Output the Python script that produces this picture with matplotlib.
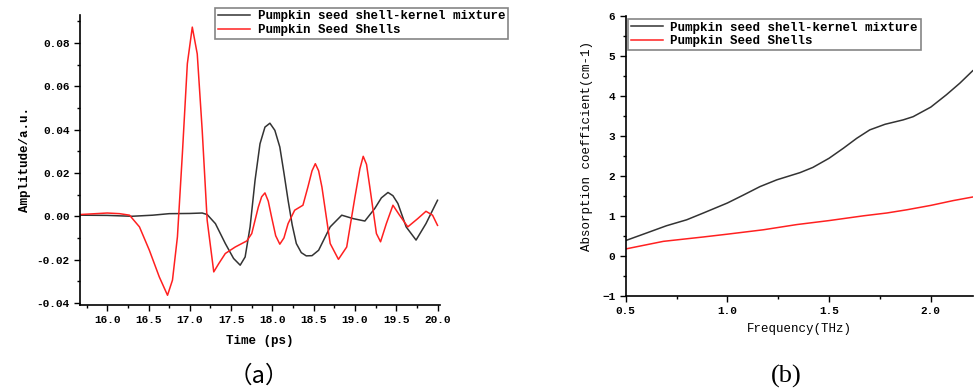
import numpy as np
import matplotlib
matplotlib.use("Agg")
import matplotlib.pyplot as plt
from matplotlib.ticker import MultipleLocator

plt.rcParams['font.family'] = ['Liberation Mono', 'DejaVu Sans']

# (a) time domain signal
time_mix = [15.67, 16.0, 16.15, 16.3, 16.55, 16.75, 17.0, 17.15, 17.21, 17.31, 17.43, 17.53,
            17.61, 17.67, 17.73, 17.79, 17.85, 17.91, 17.97, 18.03, 18.09, 18.14, 18.19,
            18.24, 18.29, 18.35, 18.41, 18.48, 18.56, 18.70, 18.84, 18.98, 19.12, 19.24,
            19.32, 19.40, 19.46, 19.52, 19.62, 19.74, 19.86, 20.0]
amp_mix = [0.0005, 0.0004, 0.0002, 0.0, 0.0005, 0.0012, 0.0013, 0.0015, 0.0008, -0.0034,
           -0.0126, -0.0195, -0.0226, -0.0188, -0.0049, 0.0166, 0.0335, 0.0412, 0.043,
           0.0397, 0.032, 0.020, 0.0074, -0.004, -0.0126, -0.0168, -0.0183, -0.0182,
           -0.0157, -0.0049, 0.0005, -0.0011, -0.0022, 0.0036, 0.0085, 0.011, 0.0095,
           0.0059, -0.0049, -0.011, -0.0034, 0.0074]

time_shell = [15.67, 16.0, 16.15, 16.27, 16.39, 16.51, 16.63, 16.73, 16.79, 16.85, 16.91,
              16.97, 17.03, 17.09, 17.15, 17.21, 17.29, 17.35, 17.43, 17.55, 17.69, 17.75,
              17.83, 17.87, 17.91, 17.95, 17.99, 18.04, 18.09, 18.14, 18.19, 18.27, 18.37,
              18.43, 18.48, 18.52, 18.56, 18.60, 18.70, 18.80, 18.90, 19.00, 19.06, 19.10,
              19.14, 19.18, 19.26, 19.31, 19.38, 19.46, 19.54, 19.64, 19.76, 19.86, 19.94,
              20.0]
amp_shell = [0.0008, 0.0015, 0.0012, 0.0005, -0.0049, -0.0157, -0.028, -0.0365, -0.0295,
             -0.0095, 0.029, 0.0705, 0.0874, 0.075, 0.0397, -0.0018, -0.0257, -0.0219,
             -0.0172, -0.0142, -0.0114, -0.008, 0.0043, 0.009, 0.0108, 0.007, -0.0003,
             -0.009, -0.0129, -0.010, -0.0034, 0.0028, 0.0051, 0.0135, 0.021, 0.0243,
             0.021, 0.0135, -0.0126, -0.0199, -0.0142, 0.0089, 0.022, 0.0277, 0.024,
             0.0135, -0.008, -0.0118, -0.0034, 0.0051, 0.0005, -0.0049, -0.0011, 0.0023,
             0.0005, -0.0042]

# (b) absorption coefficient
freq_mix = [0.5, 0.603, 0.70, 0.80, 0.882, 1.0, 1.079, 1.16, 1.243, 1.357, 1.42, 1.5, 1.57,
            1.636, 1.70, 1.775, 1.864, 1.913, 2.0, 2.077, 2.143, 2.206]
abs_mix = [0.38, 0.57, 0.75, 0.90, 1.07, 1.32, 1.52, 1.73, 1.90, 2.08, 2.21, 2.44, 2.69,
           2.94, 3.15, 3.29, 3.40, 3.48, 3.72, 4.03, 4.32, 4.63]
freq_shell = [0.5, 0.685, 0.882, 1.0, 1.177, 1.341, 1.5, 1.67, 1.784, 1.882, 2.0, 2.11, 2.206]
abs_shell = [0.17, 0.36, 0.47, 0.54, 0.65, 0.78, 0.88, 1.0, 1.07, 1.15, 1.26, 1.38, 1.47]

labels = ["Pumpkin seed shell-kernel mixture", "Pumpkin Seed Shells"]
c_mix = '#333333'
c_shell = '#ff2020'

fig = plt.figure(figsize=(9.74, 3.89), dpi=100)
ax1 = fig.add_axes([80/974, 1-305/389, 360/974, 290/389])
ax2 = fig.add_axes([625.7/974, 1-295.7/389, 347/974, 279.7/389])

def style(ax):
    for s in ['top', 'right']:
        ax.spines[s].set_visible(False)
    for s in ['left', 'bottom']:
        ax.spines[s].set_linewidth(1.2)
    ax.tick_params(which='major', direction='out', length=4, width=1, labelsize=8)
    ax.tick_params(which='minor', direction='out', length=2.5, width=1)
    for t in ax.get_xticklabels() + ax.get_yticklabels():
        t.set_fontweight('bold')

ax1.plot(time_mix, amp_mix, color=c_mix, lw=1.1, label=labels[0])
ax1.plot(time_shell, amp_shell, color=c_shell, lw=1.1, label=labels[1])
ax1.set_xlim(15.67, 20.03)
ax1.set_ylim(-0.041, 0.093)
ax1.xaxis.set_major_locator(MultipleLocator(0.5))
ax1.xaxis.set_minor_locator(MultipleLocator(0.25))
ax1.yaxis.set_major_locator(MultipleLocator(0.02))
ax1.yaxis.set_minor_locator(MultipleLocator(0.01))
ax1.yaxis.set_major_formatter(lambda v, p: f"{v:.2f}")
style(ax1)
ax1.set_xlabel("Time (ps)", fontsize=9, fontweight='bold', labelpad=7)
ax1.set_ylabel("Amplitude/a.u.", fontsize=9, fontweight='bold', labelpad=4)

ax2.plot(freq_mix, abs_mix, color=c_mix, lw=1.1, label=labels[0])
ax2.plot(freq_shell, abs_shell, color=c_shell, lw=1.1, label=labels[1])
ax2.set_xlim(0.5, 2.206)
ax2.set_ylim(-1, 6)
ax2.xaxis.set_major_locator(MultipleLocator(0.5))
ax2.xaxis.set_minor_locator(MultipleLocator(0.25))
ax2.yaxis.set_major_locator(MultipleLocator(1))
ax2.yaxis.set_minor_locator(MultipleLocator(0.5))
ax2.xaxis.set_major_formatter(lambda v, p: f"{v:.1f}")
style(ax2)
ax2.set_xlabel("Frequency(THz)", fontsize=9, labelpad=5)
ax2.set_ylabel("Absorption coefficient(cm-1)", fontsize=9)
ax2.yaxis.set_label_coords(-0.095, 0.535)

for ax, x0, y0 in [(ax1, 215, 8), (ax2, 628, 19)]:
    h, l = ax.get_legend_handles_labels()
    leg = fig.legend(h, l, loc='upper left', bbox_to_anchor=(x0/974, 1-y0/389),
                     fontsize=9, frameon=True, fancybox=False, handlelength=2.6,
                     handletextpad=0.6, borderpad=0.2, labelspacing=0.15,
                     borderaxespad=0)
    leg.get_frame().set_edgecolor('#666666')
    leg.get_frame().set_linewidth(1.2)
    for t in leg.get_texts():
        t.set_fontweight('bold')

fig.text(259/974, 1-376/389, "（a）", ha='center', va='center', fontsize=17,
         family=['Noto Sans CJK SC', 'DejaVu Sans'])
fig.text(786/974, 1-376/389, "(b)", ha='center', va='center', fontsize=19,
         family=['Liberation Serif'])

fig.savefig("out.png", dpi=100)
